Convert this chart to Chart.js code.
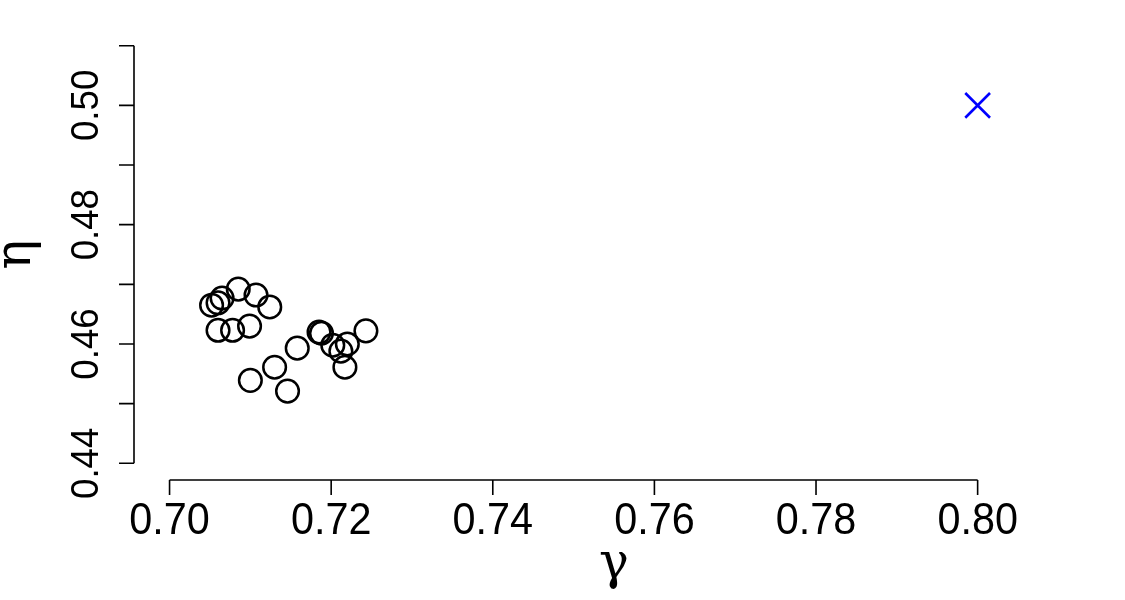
<!DOCTYPE html>
<html>
<head>
<meta charset="utf-8">
<script src="https://cdn.jsdelivr.net/npm/chart.js@4.4.0/dist/chart.umd.min.js"></script>
<style>
  body { margin: 0; background: #fff; }
  #wrap { width: 1125px; height: 600px; position: relative; }
</style>
</head>
<body>
<div id="wrap"><canvas id="chart"></canvas></div>
<script>
// estimates (gamma, eta)
const gammaVals = [0.7052, 0.7060, 0.7065, 0.7085, 0.7107, 0.7124, 0.7060, 0.7078, 0.7099, 0.7158,
                   0.7130, 0.7100, 0.7146, 0.7185, 0.7188, 0.7202, 0.7212, 0.7220, 0.7217, 0.7243];
const etaVals = [0.4665, 0.4669, 0.4677, 0.4692, 0.4682, 0.4662, 0.4623, 0.4623, 0.4630, 0.4593,
                 0.4561, 0.4539, 0.4521, 0.4620, 0.4618, 0.4598, 0.4588, 0.4600, 0.4561, 0.4622];
// true value
const trueGamma = [0.80];
const trueEta = [0.50];

const xTicks = [0.70, 0.72, 0.74, 0.76, 0.78, 0.80];
const yTicks = [0.44, 0.45, 0.46, 0.47, 0.48, 0.49, 0.50, 0.51];
const yLabelTicks = [0.44, 0.46, 0.48, 0.50];

const toPoints = (xs, ys) => xs.map((x, i) => ({ x: x, y: ys[i] }));

// R style axes drawn from chart scales
const rAxes = {
    id: 'rAxes',
    afterDraw(chart) {
        const ctx = chart.ctx;
        const xs = chart.scales.x;
        const ys = chart.scales.y;
        const area = chart.chartArea;
        ctx.save();
        ctx.strokeStyle = '#000';
        ctx.fillStyle = '#000';
        ctx.lineWidth = 1.6;

        // x axis
        const axY = area.bottom;
        ctx.beginPath();
        ctx.moveTo(xs.getPixelForValue(xTicks[0]), axY);
        ctx.lineTo(xs.getPixelForValue(xTicks[xTicks.length - 1]), axY);
        xTicks.forEach(t => {
            const px = xs.getPixelForValue(t);
            ctx.moveTo(px, axY);
            ctx.lineTo(px, axY + 15);
        });
        ctx.stroke();
        ctx.font = '44px "Liberation Sans", Arial, sans-serif';
        ctx.textAlign = 'center';
        ctx.textBaseline = 'alphabetic';
        xTicks.forEach(t => {
            ctx.save();
            ctx.translate(xs.getPixelForValue(t), axY + 54);
            ctx.scale(0.94, 1);
            ctx.fillText(t.toFixed(2), 0, 0);
            ctx.restore();
        });

        // y axis
        const axX = area.left;
        ctx.beginPath();
        ctx.moveTo(axX, ys.getPixelForValue(yTicks[0]));
        ctx.lineTo(axX, ys.getPixelForValue(yTicks[yTicks.length - 1]));
        yTicks.forEach(t => {
            const py = ys.getPixelForValue(t);
            ctx.moveTo(axX, py);
            ctx.lineTo(axX - 15, py);
        });
        ctx.stroke();
        ctx.font = '39px "Liberation Sans", Arial, sans-serif';
        yLabelTicks.forEach(t => {
            ctx.save();
            ctx.translate(axX - 36, ys.getPixelForValue(t));
            ctx.rotate(-Math.PI / 2);
            ctx.scale(0.94, 1);
            ctx.fillText(t.toFixed(2), 0, 0);
            ctx.restore();
        });

        // axis titles
        ctx.font = '50px "DejaVu Serif", "Liberation Serif", serif';
        ctx.fillText('γ', (area.left + area.right) / 2, 578);
        ctx.save();
        ctx.translate(30, (area.top + area.bottom) / 2);
        ctx.rotate(-Math.PI / 2);
        ctx.fillText('η', 0, 0);
        ctx.restore();
        ctx.restore();
    }
};

new Chart(document.getElementById('chart'), {
    type: 'scatter',
    data: {
        datasets: [
            {
                label: 'estimates',
                data: toPoints(gammaVals, etaVals),
                pointStyle: 'circle',
                pointRadius: 11.3,
                pointHoverRadius: 11.3,
                borderWidth: 2.5,
                borderColor: '#000',
                backgroundColor: 'rgba(0,0,0,0)'
            },
            {
                label: 'true',
                data: toPoints(trueGamma, trueEta),
                pointStyle: 'crossRot',
                pointRadius: 17.5,
                pointHoverRadius: 17.5,
                borderWidth: 2.6,
                borderColor: '#0000FF',
                backgroundColor: '#0000FF'
            }
        ]
    },
    options: {
        responsive: true,
        maintainAspectRatio: false,
        animation: false,
        layout: { padding: { left: 134, right: 31, top: 29, bottom: 120 } },
        plugins: {
            legend: { display: false },
            tooltip: { enabled: false }
        },
        scales: {
            x: { type: 'linear', display: false, min: 0.6956, max: 0.8144 },
            y: { type: 'linear', display: false, min: 0.4372, max: 0.5128 }
        }
    },
    plugins: [rAxes]
});
</script>
</body>
</html>
